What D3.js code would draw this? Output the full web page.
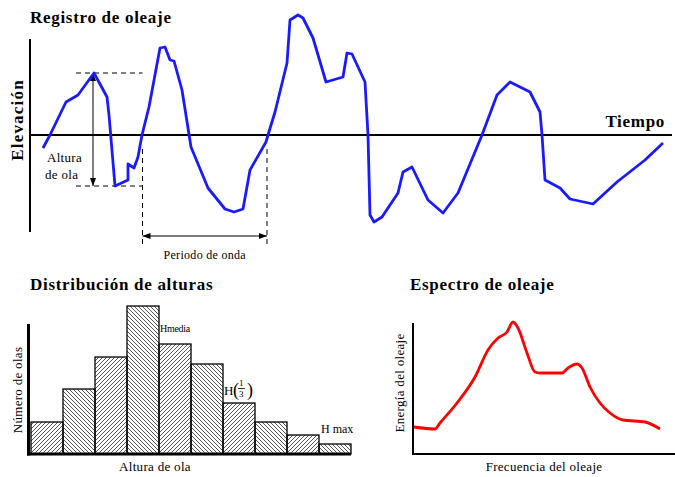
<!DOCTYPE html>
<html>
<head>
<meta charset="utf-8">
<script src="https://cdn.jsdelivr.net/npm/d3@7"></script>
<style>
  body { margin: 0; background: #fff; }
  text { font-family: "Liberation Serif", "Times New Roman", serif; fill: #000; }
  .title { font-size: 17px; font-weight: bold; letter-spacing: 0.7px; }
  .label { font-size: 13px; letter-spacing: 0.3px; }
</style>
</head>
<body>
<svg id="chart"></svg>
<script>
// ---- data ----
// wave record: time (arbitrary units) and surface elevation
const waveTime = [13, 20, 36, 48, 64, 77, 79, 85, 98, 98, 104, 108, 112, 119, 130, 135, 140, 144, 152, 161,
  178, 195, 204, 213, 220, 236, 238, 245, 257, 260, 268, 273, 283, 296, 313, 317, 322, 335, 338, 340,
  344, 352, 368, 373, 382, 398, 413, 428, 452, 467, 480, 500, 510, 512, 515, 530, 540, 563, 587, 615, 633];
const waveElev = [-13, 0, 33, 40, 62, 38, 20, -51, -45, -29, -33, -22, 0, 28, 87, 88, 75, 74, 45, -12,
  -53, -74, -77, -74, -35, -7, 0, 23, 72, 115, 120, 117, 97, 53, 58, 82, 81, 53, 0, -80,
  -87, -82, -58, -37, -32, -65, -78, -58, 0, 40, 53, 43, 23, 0, -45, -53, -64, -69, -47, -25, -8];

// annotated wave: crest, trough and the two zero up-crossings
const waveCrest = { t: 64, e: 62 };
const waveTrough = { t: 85, e: -51 };
const periodBounds = [112.5, 237];

// height distribution (number of waves per height class)
const heightBins = ["1", "2", "3", "4", "5", "6", "7", "8", "9", "10"];
const waveCounts = [32, 65, 97, 148, 110, 90, 51, 32, 19, 10];

// energy spectrum
const frequency = [1, 22, 27, 44, 62, 75, 85, 94, 100, 105, 114, 122, 127, 149, 155, 164, 169, 177, 187, 197, 210, 232, 247];
const energy = [27, 25, 31, 51, 77, 104, 116, 122, 132, 126, 101, 82, 81, 81, 86, 90, 86, 67, 51, 41, 34, 32, 25];

const width = 675, height = 477;

const svg = d3.select('#chart')
    .attr('width', width)
    .attr('height', height);

svg.append('rect').attr('width', width).attr('height', height).attr('fill', '#fff');

// markers + hatch patterns
const defs = svg.append('defs');
[['arrow-end', 'M0,0 L8,3 L0,6 Z'], ['arrow-start', 'M8,0 L0,3 L8,6 Z']].forEach(([id, d]) => {
    defs.append('marker')
        .attr('id', id)
        .attr('viewBox', '0 0 8 6')
        .attr('refX', id === 'arrow-end' ? 8 : 0)
        .attr('refY', 3)
        .attr('markerWidth', 8)
        .attr('markerHeight', 6)
        .attr('markerUnits', 'userSpaceOnUse')
        .attr('orient', 'auto')
        .append('path').attr('d', d).attr('fill', '#000');
});
const hatchUp = defs.append('pattern')
    .attr('id', 'hatch-up').attr('patternUnits', 'userSpaceOnUse')
    .attr('width', 4).attr('height', 4);
hatchUp.append('path')
    .attr('d', 'M-1,1 L1,-1 M0,4 L4,0 M3,5 L5,3')
    .attr('stroke', '#222').attr('stroke-width', 0.75);
const hatchDown = defs.append('pattern')
    .attr('id', 'hatch-down').attr('patternUnits', 'userSpaceOnUse')
    .attr('width', 4).attr('height', 4);
hatchDown.append('path')
    .attr('d', 'M-1,3 L1,5 M0,0 L4,4 M3,-1 L5,1')
    .attr('stroke', '#222').attr('stroke-width', 0.75);

// ================= Registro de oleaje =================
const x = d3.scaleLinear().domain([0, 640]).range([30, 670]);
const y = d3.scaleLinear().domain([-100, 125]).range([235, 10]);

svg.append('text').attr('class', 'title')
    .attr('x', 30).attr('y', 23).text('Registro de oleaje');

// axes
svg.append('line')
    .attr('x1', x(0)).attr('x2', x(0))
    .attr('y1', y(96)).attr('y2', y(-97))
    .attr('stroke', '#000').attr('stroke-width', 2);
svg.append('line')
    .attr('x1', x(0)).attr('x2', x(642))
    .attr('y1', y(0)).attr('y2', y(0))
    .attr('stroke', '#000').attr('stroke-width', 2);

svg.append('text').attr('class', 'title')
    .attr('transform', `translate(23,${y(15)}) rotate(-90)`)
    .attr('text-anchor', 'middle')
    .style('letter-spacing', '1.2px')
    .text('Elevación');
svg.append('text').attr('class', 'title')
    .attr('x', 665).attr('y', y(0) - 8)
    .attr('text-anchor', 'end')
    .text('Tiempo');

// dashed guides
const dashed = svg.append('g')
    .attr('stroke', '#000').attr('stroke-width', 1).attr('stroke-dasharray', '5,4');
[waveCrest.e, waveTrough.e].forEach(e => {
    dashed.append('line')
        .attr('x1', x(46)).attr('x2', x(periodBounds[0]))
        .attr('y1', y(e)).attr('y2', y(e));
});
periodBounds.forEach(t => {
    dashed.append('line')
        .attr('x1', x(t)).attr('x2', x(t))
        .attr('y1', y(-14)).attr('y2', y(-112));
});

// wave height arrow
svg.append('line')
    .attr('x1', x(waveCrest.t - 1)).attr('x2', x(waveCrest.t - 1))
    .attr('y1', y(waveCrest.e)).attr('y2', y(waveTrough.e))
    .attr('stroke', '#000').attr('stroke-width', 1)
    .attr('marker-start', 'url(#arrow-start)')
    .attr('marker-end', 'url(#arrow-end)');

// period arrow
svg.append('line')
    .attr('x1', x(periodBounds[0])).attr('x2', x(periodBounds[1]))
    .attr('y1', y(-101)).attr('y2', y(-101))
    .attr('stroke', '#000').attr('stroke-width', 1)
    .attr('marker-start', 'url(#arrow-start)')
    .attr('marker-end', 'url(#arrow-end)');

svg.append('text').attr('class', 'label')
    .attr('x', x((periodBounds[0] + periodBounds[1]) / 2)).attr('y', 259)
    .attr('text-anchor', 'middle').style('font-size', '12px')
    .text('Periodo de onda');

svg.append('text').attr('class', 'label')
    .attr('x', 47).attr('y', 162).text('Altura');
svg.append('text').attr('class', 'label')
    .attr('x', 45).attr('y', 179).text('de ola');

// wave line
const waveData = waveTime.map((t, i) => ({ t: t, e: waveElev[i] }));
svg.append('path')
    .datum(waveData)
    .attr('fill', 'none')
    .attr('stroke', '#1a1aff')
    .attr('stroke-width', 2.8)
    .attr('stroke-linejoin', 'round')
    .attr('d', d3.line().x(d => x(d.t)).y(d => y(d.e)));

// ================= Distribución de alturas =================
const hx = d3.scaleBand().domain(heightBins).range([31, 351]).padding(0);
const hy = d3.scaleLinear().domain([0, 150]).range([454, 304]);

svg.append('text').attr('class', 'title')
    .attr('x', 30).attr('y', 290).text('Distribución de alturas');

svg.selectAll('rect.bar')
    .data(waveCounts)
    .enter()
    .append('rect')
        .attr('class', 'bar')
        .attr('x', (d, i) => hx(heightBins[i]))
        .attr('y', d => hy(d))
        .attr('width', hx.bandwidth())
        .attr('height', d => hy(0) - hy(d))
        .attr('fill', (d, i) => i % 2 === 0 ? 'url(#hatch-up)' : 'url(#hatch-down)')
        .attr('stroke', '#000')
        .attr('stroke-width', 1.3);

svg.append('line')
    .attr('x1', 28.5).attr('x2', 28.5).attr('y1', 324).attr('y2', hy(0) + 1.5)
    .attr('stroke', '#000').attr('stroke-width', 3);
svg.append('line')
    .attr('x1', 27).attr('x2', 351).attr('y1', hy(0)).attr('y2', hy(0))
    .attr('stroke', '#000').attr('stroke-width', 3);

svg.append('text').attr('class', 'label')
    .attr('transform', `translate(22,390) rotate(-90)`)
    .attr('text-anchor', 'middle')
    .text('Número de olas');
svg.append('text').attr('class', 'label')
    .attr('x', 155).attr('y', 471)
    .attr('text-anchor', 'middle')
    .text('Altura de ola');

// height markers
svg.append('text')
    .attr('x', hx('5') + 1).attr('y', 332)
    .style('font-size', '10px').style('letter-spacing', '-0.3px')
    .text('Hmedia');

// H(1/3) drawn as H, parentheses and a small stacked fraction
const h13 = svg.append('g').attr('transform', `translate(${hx('7') + 1},395)`);
h13.append('text').attr('x', 0).attr('y', 0).style('font-size', '13px').text('H');
h13.append('text').attr('x', 9).attr('y', 1).style('font-size', '18px').text('(');
h13.append('text').attr('x', 23).attr('y', 1).style('font-size', '18px').text(')');
h13.append('text').attr('x', 15).attr('y', -9).style('font-size', '9px').text('1');
h13.append('text').attr('x', 15).attr('y', 2).style('font-size', '9px').text('3');
h13.append('line').attr('x1', 14).attr('x2', 21).attr('y1', -6.5).attr('y2', -6.5)
    .attr('stroke', '#000').attr('stroke-width', 0.8);

svg.append('text')
    .attr('x', hx('10') + 2).attr('y', 433)
    .style('font-size', '12px')
    .text('H max');

// ================= Espectro de oleaje =================
const sx = d3.scaleLinear().domain([0, 262]).range([413, 675]);
const sy = d3.scaleLinear().domain([0, 150]).range([454, 304]);

svg.append('text').attr('class', 'title')
    .attr('x', 410).attr('y', 290).text('Espectro de oleaje');

svg.append('line')
    .attr('x1', sx(0)).attr('x2', sx(0)).attr('y1', 323).attr('y2', sy(0) + 1)
    .attr('stroke', '#000').attr('stroke-width', 2);
svg.append('line')
    .attr('x1', sx(0) - 1).attr('x2', sx(262)).attr('y1', sy(0)).attr('y2', sy(0))
    .attr('stroke', '#000').attr('stroke-width', 2);

svg.append('text').attr('class', 'label')
    .attr('transform', `translate(404,383) rotate(-90)`)
    .attr('text-anchor', 'middle')
    .text('Energía del oleaje');
svg.append('text').attr('class', 'label')
    .attr('x', 544).attr('y', 471)
    .attr('text-anchor', 'middle')
    .text('Frecuencia del oleaje');

const specData = frequency.map((f, i) => ({ f: f, e: energy[i] }));
svg.append('path')
    .datum(specData)
    .attr('fill', 'none')
    .attr('stroke', '#ff0000')
    .attr('stroke-width', 2.8)
    .attr('stroke-linejoin', 'round')
    .attr('d', d3.line().x(d => sx(d.f)).y(d => sy(d.e)).curve(d3.curveMonotoneX));
</script>
</body>
</html>
